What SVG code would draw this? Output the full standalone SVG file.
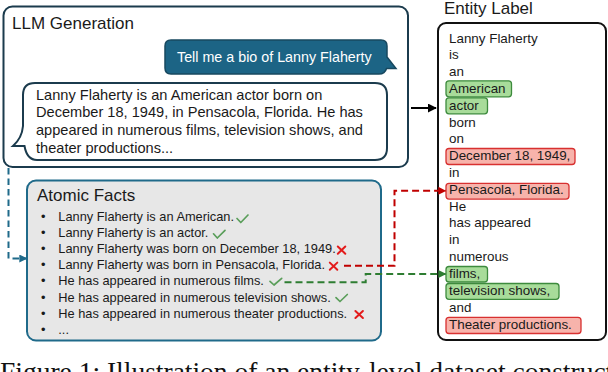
<svg xmlns="http://www.w3.org/2000/svg" width="608" height="372" viewBox="0 0 608 372">
<style>
text{font-family:"Liberation Sans",Arial,sans-serif;fill:#1a1a1a}
.title{font-size:17px}
.resp{font-size:14.6px}
.fact{font-size:12.8px}
.tok{font-size:13.4px}
.box{fill:#ffffff;stroke:#1b3b4d;stroke-width:2}
.hg{fill:#a8dc9a;stroke:#3d8b3d;stroke-width:1.3}
.hr{fill:#f7b3ab;stroke:#d83030;stroke-width:1.3}
.ok{fill:none;stroke:#5a9e5a;stroke-width:1.7;stroke-linecap:round;stroke-linejoin:round}
.no{fill:none;stroke:#e31b1b;stroke-width:2;stroke-linecap:round}
.conn{fill:none;stroke-width:2}
.caption{font-family:"Liberation Serif","Times New Roman",serif;font-size:27.5px;fill:#111}
</style>
<defs>
<marker id="ah-blue" viewBox="0 0 10 10" refX="9" refY="5" markerWidth="8" markerHeight="8" markerUnits="userSpaceOnUse" orient="auto"><path d="M0,0 L10,5 L0,10 z" fill="#1f6a8a"/></marker>
<marker id="ah-red" viewBox="0 0 10 10" refX="9" refY="5" markerWidth="8" markerHeight="8" markerUnits="userSpaceOnUse" orient="auto"><path d="M0,0 L10,5 L0,10 z" fill="#c00000"/></marker>
<marker id="ah-green" viewBox="0 0 10 10" refX="9" refY="5" markerWidth="8" markerHeight="8" markerUnits="userSpaceOnUse" orient="auto"><path d="M0,0 L10,5 L0,10 z" fill="#2e7d32"/></marker>
<marker id="ah-black" viewBox="0 0 10 10" refX="9" refY="5" markerWidth="9" markerHeight="9" markerUnits="userSpaceOnUse" orient="auto"><path d="M0,0 L10,5 L0,10 z" fill="#000"/></marker>
</defs>

<g id="llm-generation">
<rect class="box" x="3.5" y="6.5" width="404.5" height="160.5" rx="9"/>
<text class="title" x="12" y="28.5">LLM Generation</text>
<g id="prompt-bubble">
<path d="M171,40 H381 Q387,40 387,46 V57 L396,68.5 L386.5,68.5 Q385,74 379,74 H171 Q165,74 165,68 V46 Q165,40 171,40 Z" fill="#1c6485" stroke="#17485f" stroke-width="1.5"/>
<text x="177" y="62" style="font-size:14.3px;fill:#ffffff">Tell me a bio of Lanny Flaherty</text>
</g>
<g id="response-bubble">
<path d="M35,83 H375 Q387,83 387,95 V148 Q387,160 375,160 H37 Q27,160 24.5,146 L13,146 Q22,138 23,126 V95 Q23,83 35,83 Z" fill="#ffffff" stroke="#1b3b4d" stroke-width="2"/>
<text class="resp" x="36" y="99.5">Lanny Flaherty is an American actor born on</text>
<text class="resp" x="36" y="117.3">December 18, 1949, in Pensacola, Florida. He has</text>
<text class="resp" x="36" y="135.1">appeared in numerous films, television shows, and</text>
<text class="resp" x="36" y="152.9">theater productions...</text>
</g>
</g>

<g id="atomic-facts">
<rect x="27" y="180.5" width="354" height="160" rx="9" fill="#e7e7e7" stroke="#1f6a8a" stroke-width="2"/>
<text class="title" x="37" y="200.7">Atomic Facts</text>
<text class="fact" x="41" y="220.5">•</text>
<text class="fact" x="41" y="236.7">•</text>
<text class="fact" x="41" y="252.9">•</text>
<text class="fact" x="41" y="269.1">•</text>
<text class="fact" x="41" y="285.3">•</text>
<text class="fact" x="41" y="301.5">•</text>
<text class="fact" x="41" y="317.7">•</text>
<text class="fact" x="41" y="333.9">•</text>
<text class="fact" x="58.3" y="220.5">Lanny Flaherty is an American.</text>
<text class="fact" x="58.3" y="236.7">Lanny Flaherty is an actor.</text>
<text class="fact" x="58.3" y="252.9">Lanny Flaherty was born on December 18, 1949.</text>
<text class="fact" x="58.3" y="269.1">Lanny Flaherty was born in Pensacola, Florida.</text>
<text class="fact" x="58.3" y="285.3">He has appeared in numerous films.</text>
<text class="fact" x="58.3" y="301.5">He has appeared in numerous television shows.</text>
<text class="fact" x="58.3" y="317.7">He has appeared in numerous theater productions.</text>
<text class="fact" x="58.3" y="333.9">...</text>
<path class="ok" d="M237,218.5 L240.8,222.5 L248,215"/>
<path class="ok" d="M213.5,233.8 L217.3,238 L225,230.3"/>
<path class="no" d="M337.8,246.5 L345.3,253.8 M345.3,246.5 L337.8,253.8"/>
<path class="no" d="M329.8,262.6 L337.3,269.8 M337.3,262.6 L329.8,269.8"/>
<path class="ok" d="M270,281.3 L274,285 L281.7,278.3"/>
<path class="ok" d="M336,297.6 L340,301.5 L347.3,294.5"/>
<path class="no" d="M355.4,311 L362.9,318 M362.9,311 L355.4,318"/>
</g>

<g id="entity-label">
<text class="title" x="444" y="14">Entity Label</text>
<rect x="438" y="23" width="168" height="317" rx="8" fill="#ffffff" stroke="#111" stroke-width="2"/>
<rect class="hg" x="446" y="80.8" width="65.5" height="16" rx="3"/>
<rect class="hg" x="446" y="97.8" width="41.5" height="16" rx="3"/>
<rect class="hr" x="446" y="148.5" width="129" height="16" rx="3"/>
<rect class="hr" x="446" y="183.3" width="123" height="15.8" rx="3"/>
<rect class="hg" x="446" y="266.5" width="41.5" height="15.5" rx="3"/>
<rect class="hg" x="446" y="283.5" width="113" height="15.8" rx="3"/>
<rect class="hr" x="446" y="317.3" width="135" height="16.2" rx="3"/>
<text class="tok" x="449" y="42.5">Lanny Flaherty</text>
<text class="tok" x="449" y="59.3">is</text>
<text class="tok" x="449" y="76.1">an</text>
<text class="tok" x="449" y="92.9">American</text>
<text class="tok" x="449" y="109.7">actor</text>
<text class="tok" x="449" y="126.5">born</text>
<text class="tok" x="449" y="143.3">on</text>
<text class="tok" x="449" y="160.3">December 18, 1949,</text>
<text class="tok" x="449" y="177">in</text>
<text class="tok" x="449" y="194">Pensacola, Florida.</text>
<text class="tok" x="449" y="210.6">He</text>
<text class="tok" x="449" y="227.3">has appeared</text>
<text class="tok" x="449" y="244.1">in</text>
<text class="tok" x="449" y="260.9">numerous</text>
<text class="tok" x="449" y="278">films,</text>
<text class="tok" x="449" y="294.8">television shows,</text>
<text class="tok" x="449" y="311.5">and</text>
<text class="tok" x="449" y="328.6">Theater productions.</text>
</g>

<g id="connectors">
<path class="conn" d="M8.5,168 V258.5 H26.5" stroke="#1f6a8a" stroke-dasharray="6.5,4" marker-end="url(#ah-blue)"/>
<path class="conn" d="M411,108 H436" stroke="#000" marker-end="url(#ah-black)"/>
<path class="conn" d="M344,265.7 H394.5 V190.8 H445.5" stroke="#c00000" stroke-dasharray="7,4" marker-end="url(#ah-red)"/>
<path class="conn" d="M284.5,282.3 H365.7 V274 H445.5" stroke="#2e7d32" stroke-dasharray="7,4" marker-end="url(#ah-green)"/>
</g>

<text class="caption" x="0" y="380.5">Figure 1: Illustration of an entity-level dataset construction</text>
</svg>
